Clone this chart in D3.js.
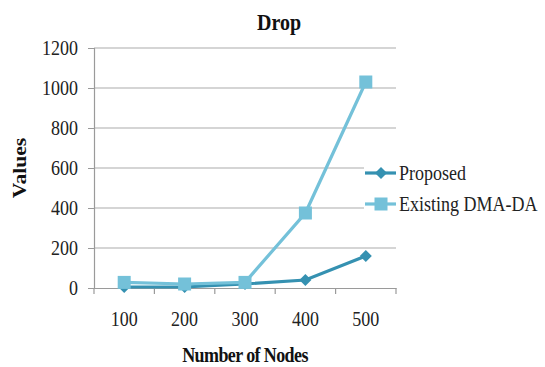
<!DOCTYPE html>
<html>
<head>
<meta charset="utf-8">
<script src="https://cdn.jsdelivr.net/npm/d3@7"></script>
<style>
  body { margin: 0; background: #fff; }
  svg { display: block; font-family: "Liberation Serif", "Times New Roman", serif; }
</style>
</head>
<body>
<div id="vis"></div>
<script>
const WIDTH = 545;
const HEIGHT = 367;

// datos
const NODES = [100, 200, 300, 400, 500];
const PROPOSED = [5, 5, 20, 40, 160];
const EXISTING = [28, 20, 28, 375, 1030];
const Y_TICKS = [0, 200, 400, 600, 800, 1000, 1200];
const SERIES = [
  { name: "Proposed", values: PROPOSED, color: "#3591b1", marker: "diamond" },
  { name: "Existing DMA-DA", values: EXISTING, color: "#74c1d9", marker: "square" },
];

const MARGIN = { top: 48, bottom: 79, left: 94, right: 149 };
const STRETCH = 1.2; // el texto original se ve estirado en vertical

const SVG = d3.select("#vis").append("svg")
  .attr("width", WIDTH).attr("height", HEIGHT);

// Escalas
const x = d3.scaleBand()
  .domain(NODES)
  .range([MARGIN.left, WIDTH - MARGIN.right]);

const y = d3.scaleLinear()
  .domain([0, 1200])
  .range([HEIGHT - MARGIN.bottom, MARGIN.top]);

// gridlines
SVG.append("g")
  .selectAll("line")
  .data(Y_TICKS.filter(d => d > 0))
  .join("line")
  .attr("x1", MARGIN.left).attr("x2", WIDTH - MARGIN.right)
  .attr("y1", d => y(d)).attr("y2", d => y(d))
  .attr("stroke", "#ababab").attr("stroke-width", 1.2);

// Eje Y
const yAxis = SVG.append("g")
  .attr("transform", `translate(${MARGIN.left}, 0)`)
  .call(d3.axisLeft(y).tickValues(Y_TICKS).tickFormat(d3.format("d")).tickSize(6).tickPadding(10));
yAxis.select(".domain").attr("stroke", "#9a9a9a").attr("stroke-width", 1.2);
yAxis.selectAll(".tick line").attr("stroke", "#9a9a9a");
yAxis.selectAll(".tick text")
  .attr("font-size", 18).attr("font-family", "Liberation Serif").attr("fill", "#222")
  .attr("transform", `scale(1, ${STRETCH})`);

// Eje X
const xAxis = SVG.append("g")
  .attr("transform", `translate(0, ${y(0)})`)
  .call(d3.axisBottom(x).tickSize(0).tickPadding(19));
xAxis.select(".domain").attr("stroke", "#9a9a9a").attr("stroke-width", 1.2);
xAxis.selectAll(".tick text")
  .attr("font-size", 18).attr("font-family", "Liberation Serif").attr("fill", "#222")
  .attr("transform", `scale(1, ${STRETCH})`);

// tick marks entre categorias
SVG.append("g")
  .selectAll("line")
  .data(NODES.concat(["end"]))
  .join("line")
  .attr("x1", (d, i) => MARGIN.left + i * x.step())
  .attr("x2", (d, i) => MARGIN.left + i * x.step())
  .attr("y1", y(0)).attr("y2", y(0) + 6)
  .attr("stroke", "#9a9a9a").attr("stroke-width", 1.2);

// lineas
const line = d3.line()
  .x((d, i) => x(NODES[i]) + x.bandwidth() / 2)
  .y(d => y(d));

function drawMarker(g, type, color) {
  if (type == "diamond") {
    g.append("path").attr("d", "M0,-6L6,0L0,6L-6,0Z").attr("fill", color);
  } else {
    g.append("rect").attr("x", -6.5).attr("y", -6.5).attr("width", 13).attr("height", 13).attr("fill", color);
  }
}

SERIES.forEach(s => {
  SVG.append("path")
    .datum(s.values)
    .attr("d", line)
    .attr("fill", "none")
    .attr("stroke", s.color)
    .attr("stroke-width", 3.2);

  SVG.append("g")
    .selectAll("g")
    .data(s.values)
    .join("g")
    .attr("transform", (d, i) => `translate(${x(NODES[i]) + x.bandwidth() / 2}, ${y(d)})`)
    .each(function () { drawMarker(d3.select(this), s.marker, s.color); });
});

// Leyenda
const legend = SVG.append("g");
legend.append("rect")
  .attr("x", 364).attr("y", 155).attr("width", 181).attr("height", 65)
  .attr("fill", "#fff");

SERIES.forEach((s, i) => {
  const ly = 173 + i * 31;
  legend.append("line")
    .attr("x1", 365).attr("x2", 396).attr("y1", ly).attr("y2", ly)
    .attr("stroke", s.color).attr("stroke-width", 3.2);
  const m = legend.append("g").attr("transform", `translate(381, ${ly})`);
  drawMarker(m, s.marker, s.color);
  legend.append("text")
    .attr("transform", `translate(399, ${ly + 7}) scale(1, ${STRETCH})`)
    .attr("font-size", 18).attr("fill", "#222")
    .text(s.name);
});

// Titulos
SVG.append("text")
  .attr("transform", `translate(279, 30) scale(1, ${STRETCH})`)
  .attr("text-anchor", "middle")
  .attr("font-size", 20).attr("font-weight", "bold").attr("fill", "#111")
  .text("Drop");

SVG.append("text")
  .attr("transform", `translate(${(MARGIN.left + WIDTH - MARGIN.right) / 2}, 362) scale(1, ${STRETCH})`)
  .attr("text-anchor", "middle")
  .attr("font-size", 18).attr("font-weight", "bold").attr("fill", "#111")
  .attr("letter-spacing", -0.6)
  .text("Number of Nodes");

SVG.append("text")
  .attr("transform", `translate(26, 168) rotate(-90) scale(${STRETCH}, 1)`)
  .attr("text-anchor", "middle")
  .attr("font-size", 18).attr("font-weight", "bold").attr("fill", "#111")
  .text("Values");
</script>
</body>
</html>
